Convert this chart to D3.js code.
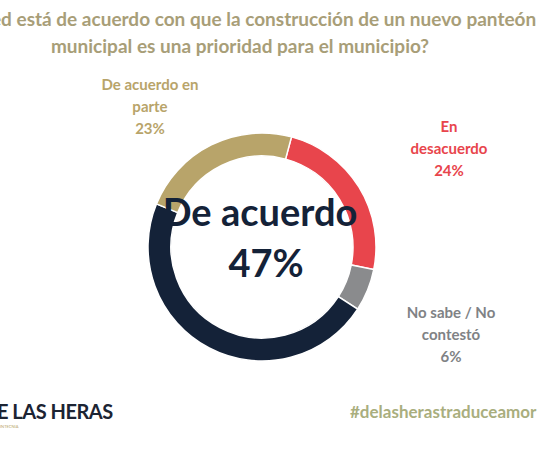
<!DOCTYPE html><html><head><meta charset="utf-8"><script src="https://cdn.jsdelivr.net/npm/d3@7"></script>
<style>body{margin:0;background:#fff}svg{display:block;font-family:Lato,"Open Sans",sans-serif}</style></head><body>
<svg id="c" width="550" height="450"></svg>
<script>
const categories=["En desacuerdo","No sabe / No contestó","De acuerdo","De acuerdo en parte"];
const values=[24,6,47,23];
const colors=["#e8454c","#8a8b8d","#142238","#b8a46a"];
const svg=d3.select("#c");
svg.append("text").attr("x",245).attr("y",26).attr("text-anchor","middle").attr("font-size",19).attr("font-weight",700).attr("fill","#a89e78").text("¿Usted está de acuerdo con que la construcción de un nuevo panteón");
svg.append("text").attr("x",240).attr("y",53).attr("text-anchor","middle").attr("font-size",19).attr("font-weight",700).attr("fill","#a89e78").text("municipal es una prioridad para el municipio?");
const cx=262,cy=247,R=114,r=91;
const pie=d3.pie().sort(null).startAngle(15*Math.PI/180).endAngle(375*Math.PI/180);
const arc=d3.arc().innerRadius(r).outerRadius(R);
const g=svg.append("g").attr("transform",`translate(${cx},${cy})`);
g.selectAll("path").data(pie(values)).join("path").attr("d",arc).attr("fill",(d,i)=>colors[i]).attr("stroke","#fff").attr("stroke-width",1.5);
svg.append("text").attr("x",cx-2).attr("y",226).attr("text-anchor","middle").attr("font-size",38).attr("font-weight",700).attr("fill","#142238").text("De acuerdo");
svg.append("text").attr("x",cx+4).attr("y",277).attr("text-anchor","middle").attr("font-size",38).attr("font-weight",700).attr("fill","#142238").text(values[2]+"%");
function lab(x,y,lines,c){const t=svg.append("text").attr("text-anchor","middle").attr("font-size",15).attr("font-weight",700).attr("fill",c);lines.forEach((l,i)=>t.append("tspan").attr("x",x).attr("y",y+i*22).text(l));}
lab(150,90,["De acuerdo en","parte",values[3]+"%"],colors[3]);
lab(449,132,["En","desacuerdo",values[0]+"%"],colors[0]);
lab(451,318,["No sabe / No","contestó",values[1]+"%"],"#808285");
svg.append("text").attr("x",-3).attr("y",419).attr("font-size",20).attr("font-weight",700).attr("fill","#1c2433").attr("letter-spacing",-0.5).text("E LAS HERAS");
svg.append("text").attr("x",0).attr("y",428).attr("font-size",4).attr("fill","#b8a46a").text("INTECNIA");
svg.append("text").attr("x",350).attr("y",418).attr("font-size",17).attr("font-weight",700).attr("fill","#a9ae7e").text("#delasherastraduceamor");
</script></body></html>
